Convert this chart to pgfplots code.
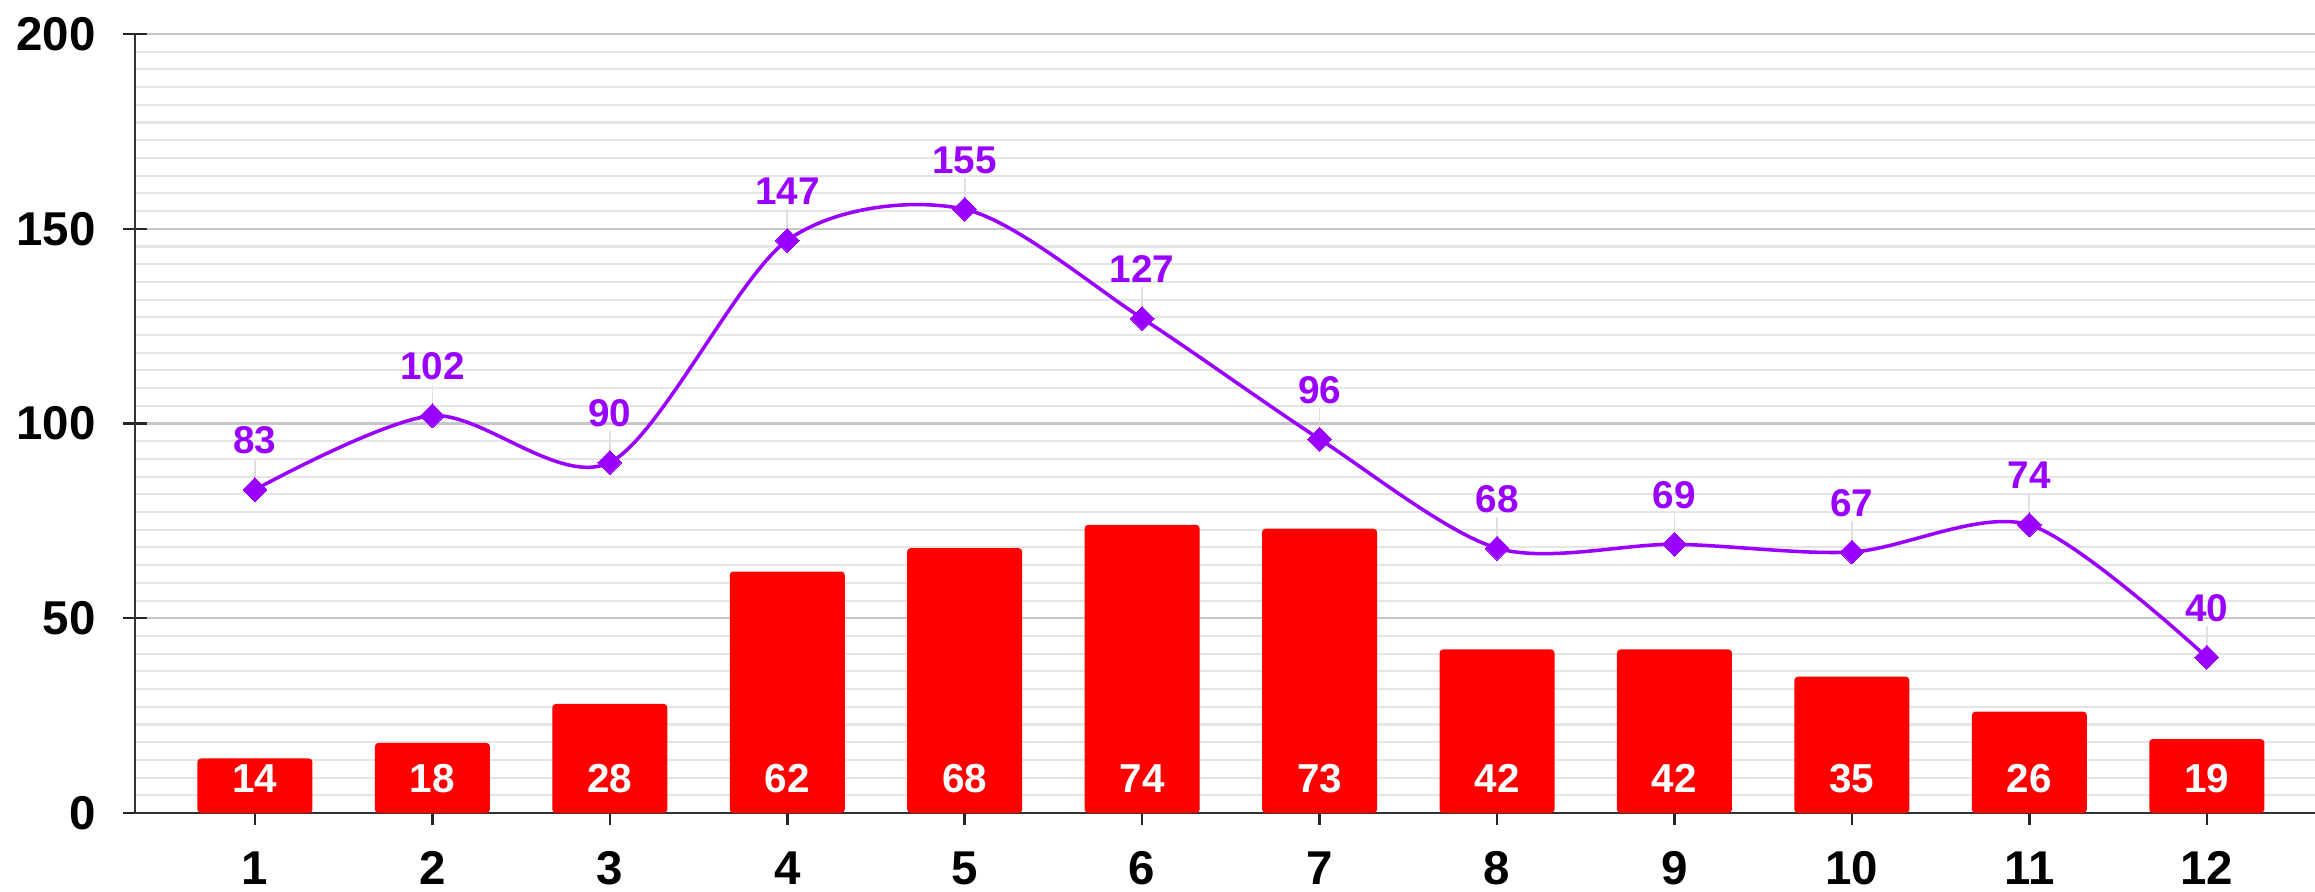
\documentclass[border=0pt]{standalone}
\usepackage{pgfplots}
\pgfplotsset{compat=1.18}
\usepackage{fontspec}
\setmainfont{Liberation Sans}
\definecolor{barred}{HTML}{FF0000}
\definecolor{linepurple}{HTML}{9900FF}
\pgfplotsset{layers/mylayers/.define layer set={axis background,axis grid,main,axis ticks,axis lines,axis tick labels,axis descriptions,axis foreground}{}}
\begin{document}
\begin{tikzpicture}
\begin{axis}[
 set layers=mylayers,
 at={(0,0)}, anchor=south west,
 scale only axis, width=21.8cm, height=7.79cm,
 xmin=0.324, xmax=12.61, ymin=0, ymax=200,
 axis x line=bottom, axis y line=left,
 axis line style={-, draw=black!80, line width=0.7pt},
 xtick={1,...,12}, ytick={0,50,100,150,200},
 minor ytick={4.545,9.091,13.636,18.182,22.727,27.273,31.818,36.364,40.909,45.455,
   54.545,59.091,63.636,68.182,72.727,77.273,81.818,86.364,90.909,95.455,
   104.545,109.091,113.636,118.182,122.727,127.273,131.818,136.364,140.909,145.455,
   154.545,159.091,163.636,168.182,172.727,177.273,181.818,186.364,190.909,195.455},
 tick align=center, major tick length=0.24cm, minor tick length=0pt,
 tick style={black!85, line width=0.7pt},
 ymajorgrids, yminorgrids,
 major grid style={draw=black!22, line width=0.6pt},
 minor grid style={draw=black!10, line width=0.6pt},
 ticklabel style={font=\fontsize{13.5}{15}\selectfont\bfseries},
 yticklabel style={xshift=-0.15cm},
 xticklabel style={yshift=-0.14cm},
 /pgf/number format/assume math mode=true,
 clip=false,
]
\addplot[ybar, bar width=1.15cm, fill=barred, draw=none, rounded corners=1pt]
 coordinates {(1,14) (2,18) (3,28) (4,62) (5,68) (6,74) (7,73) (8,42) (9,42) (10,35) (11,26) (12,19)};
\addplot[draw=none, mark=none, nodes near coords, point meta=explicit symbolic,
 nodes near coords style={anchor=base, yshift=0.21cm, text=white, font=\fontsize{11.5}{13}\selectfont\bfseries}]
 coordinates {(1,0) [14] (2,0) [18] (3,0) [28] (4,0) [62] (5,0) [68] (6,0) [74] (7,0) [73] (8,0) [42] (9,0) [42] (10,0) [35] (11,0) [26] (12,0) [19]};
\addplot[draw=none, mark=none, error bars/.cd, y dir=plus, y explicit, error mark=none,
 error bar style={draw=black!12, line width=0.5pt}]
 coordinates {(1,83) +- (0,8) (2,102) +- (0,8) (3,90) +- (0,8) (4,147) +- (0,8) (5,155) +- (0,8) (6,127) +- (0,8) (7,96) +- (0,8) (8,68) +- (0,8) (9,69) +- (0,8) (10,67) +- (0,8) (11,74) +- (0,8) (12,40) +- (0,8)};
\addplot[linepurple, line width=1pt, smooth, tension=0.5,
 mark=square*, mark size=2.4pt, mark options={rotate=45, fill=linepurple, draw=linepurple, line width=0pt},
 nodes near coords,
 nodes near coords style={anchor=base, yshift=0.36cm, text=linepurple, font=\fontsize{11}{13}\selectfont\bfseries}]
 coordinates {(1,83) (2,102) (3,90) (4,147) (5,155) (6,127) (7,96) (8,68) (9,69) (10,67) (11,74) (12,40)};
\end{axis}
\pgfresetboundingbox
\path (-1.35cm,-0.78cm) rectangle (21.8cm,8.13cm);
\end{tikzpicture}
\end{document}
